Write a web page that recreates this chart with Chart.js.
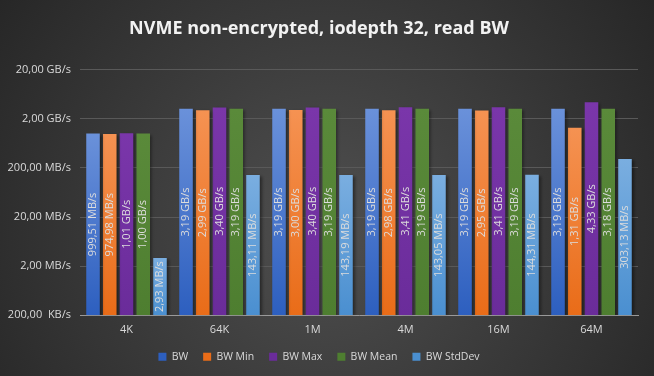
<!DOCTYPE html>
<html>
<head>
<meta charset="utf-8">
<script src="https://cdn.jsdelivr.net/npm/chart.js@4/dist/chart.umd.min.js"></script>
<style>
  html, body { margin: 0; padding: 0; background: #2b2b2b; }
  #wrap { width: 654px; height: 376px; }
</style>
</head>
<body>
<div id="wrap"><canvas id="miGrafico" width="654" height="376"></canvas></div>
<script>
// datos (MB/s)
const categorias = ["4K", "64K", "1M", "4M", "16M", "64M"];
const series = ["BW", "BW Min", "BW Max", "BW Mean", "BW StdDev"];
const bw       = [999.51, 3190, 3190, 3190, 3190, 3190];
const bwMin    = [974.98, 2990, 3000, 2980, 2950, 1310];
const bwMax    = [1010, 3400, 3400, 3410, 3410, 4330];
const bwMean   = [1000, 3190, 3190, 3190, 3190, 3180];
const bwStdDev = [2.93, 143.11, 143.19, 143.05, 144.31, 303.13];
const ticksY      = [0.2, 2, 20, 200, 2000, 20000];
const ticksYLabel = ["200,00  KB/s", "2,00 MB/s", "20,00 MB/s", "200,00 MB/s", "2,00 GB/s", "20,00 GB/s"];

const colores = [
    ['#6a91da', '#2d5fbf'],
    ['#f59252', '#e96c18'],
    ['#7a36aa', '#6a2c9a'],
    ['#5a8a3a', '#4e7e30'],
    ['#7aaee0', '#4a8fd0']
];

function etiqueta(v) {
    if (v >= 1000) return (v / 1000).toFixed(2).replace('.', ',') + ' GB/s';
    return v.toFixed(2).replace('.', ',') + ' MB/s';
}

function degradado(i) {
    return (c) => {
        const chart = c.chart;
        const area = chart.chartArea;
        if (!area || c.raw == null) return colores[i][1];
        const y = chart.scales.y.getPixelForValue(c.raw);
        const g = chart.ctx.createLinearGradient(0, y, 0, area.bottom);
        g.addColorStop(0, colores[i][0]);
        g.addColorStop(1, colores[i][1]);
        return g;
    };
}

const fondo = {
    id: 'fondo',
    beforeDraw(chart) {
        const { ctx, width, height } = chart;
        const g = ctx.createRadialGradient(width / 2, height * 0.6, 10, width / 2, height * 0.6, width * 0.62);
        g.addColorStop(0, '#4e4e4e');
        g.addColorStop(1, '#262626');
        ctx.save();
        ctx.fillStyle = g;
        ctx.fillRect(0, 0, width, height);
        ctx.restore();
    }
};

// sombra de las barras
const sombra = {
    id: 'sombra',
    beforeDatasetsDraw(chart) {
        const ctx = chart.ctx;
        ctx.save();
        ctx.shadowColor = 'rgba(0,0,0,0.45)';
        ctx.shadowBlur = 3;
        ctx.shadowOffsetX = 2;
        ctx.shadowOffsetY = 1;
    },
    afterDatasetsDraw(chart) {
        chart.ctx.restore();
    }
};

const etiquetas = {
    id: 'etiquetas',
    afterDatasetsDraw(chart) {
        const ctx = chart.ctx;
        ctx.save();
        ctx.font = '11px "Open Sans", sans-serif';
        ctx.fillStyle = '#dcdcdc';
        ctx.textAlign = 'center';
        ctx.textBaseline = 'middle';
        chart.data.datasets.forEach((ds, i) => {
            chart.getDatasetMeta(i).data.forEach((bar, j) => {
                const cy = (bar.y + bar.base) / 2;
                ctx.save();
                ctx.translate(bar.x, cy);
                ctx.rotate(-Math.PI / 2);
                ctx.fillText(etiqueta(ds.data[j]), 0, 0);
                ctx.restore();
            });
        });
        ctx.restore();
    }
};

const valores = [bw, bwMin, bwMax, bwMean, bwStdDev];

new Chart(document.getElementById('miGrafico').getContext('2d'), {
    type: 'bar',
    data: {
        labels: categorias,
        datasets: series.map((s, i) => ({
            label: s,
            data: valores[i],
            backgroundColor: degradado(i),
            borderWidth: 0,
            categoryPercentage: 0.9,
            barPercentage: 0.81
        }))
    },
    options: {
        responsive: false,
        animation: false,
        layout: { padding: { left: 0, right: 16, top: 0, bottom: 4 } },
        plugins: {
            legend: {
                position: 'bottom',
                labels: {
                    color: '#d9d9d9',
                    boxWidth: 8,
                    boxHeight: 8,
                    padding: 15,
                    font: { size: 10.5, family: '"Open Sans", sans-serif' },
                    generateLabels(chart) {
                        return chart.data.datasets.map((ds, i) => ({
                            text: ds.label,
                            fillStyle: colores[i][1],
                            strokeStyle: colores[i][1],
                            lineWidth: 0,
                            fontColor: '#d9d9d9',
                            datasetIndex: i
                        }));
                    }
                }
            },
            title: {
                display: true,
                text: 'NVME non-encrypted, iodepth 32, read BW',
                color: '#f2f2f2',
                font: { size: 18, weight: 'bold', family: '"Open Sans", sans-serif' },
                padding: { top: 18, bottom: 30 }
            },
            tooltip: { enabled: false }
        },
        scales: {
            x: {
                grid: { display: false },
                border: { color: '#9a9a9a', width: 1 },
                ticks: { color: '#d9d9d9', font: { size: 11, family: '"Open Sans", sans-serif' }, padding: 0 }
            },
            y: {
                type: 'logarithmic',
                min: 0.2,
                max: 20000,
                afterBuildTicks(scale) {
                    scale.ticks = ticksY.map(v => ({ value: v }));
                },
                afterFit(scale) { scale.width = 80; },
                grid: { color: '#595959', drawTicks: false },
                border: { display: false },
                ticks: {
                    color: '#d9d9d9',
                    font: { size: 11, family: '"Open Sans", sans-serif' },
                    padding: 9,
                    callback: (v) => {
                        const k = ticksY.indexOf(v);
                        return k >= 0 ? ticksYLabel[k] : '';
                    }
                }
            }
        }
    },
    plugins: [fondo, sombra, etiquetas]
});
</script>
</body>
</html>
